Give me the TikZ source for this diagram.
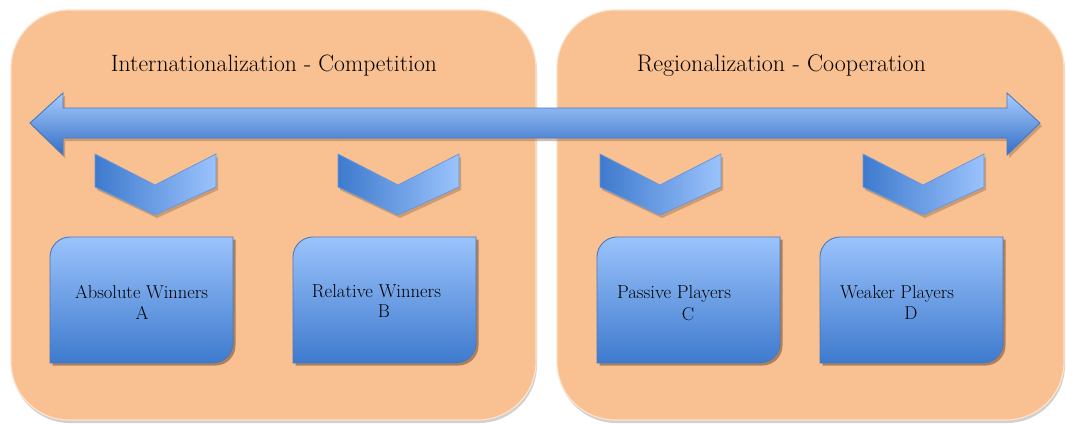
\documentclass[tikz,border=0pt]{standalone}
\usepackage{graphicx}
\definecolor{panelfill}{RGB}{249,193,145}
\definecolor{paneledge}{RGB}{253,226,204}
\definecolor{panelshadow}{RGB}{208,208,208}
\definecolor{bluelight}{RGB}{155,195,252}
\definecolor{bluedark}{RGB}{62,122,205}
\definecolor{blueedge}{RGB}{72,122,192}
\definecolor{arrowlight}{RGB}{168,205,255}
\definecolor{arrowdark}{RGB}{52,110,196}
\definecolor{boxshadow}{RGB}{172,128,92}
\definecolor{softshadow}{RGB}{150,110,80}
\tikzset{
  panel/.style={fill=panelfill, draw=paneledge, line width=1.2pt, rounded corners=58pt},
  panelshade/.style={fill=panelshadow, rounded corners=58pt},
  arrowshade/.style={top color=arrowlight, bottom color=arrowdark, draw=blueedge, line width=0.9pt},
  chevshade/.style={left color=bluedark, right color=bluelight, draw=blueedge!60!bluelight, line width=0.8pt},
  boxshade/.style={top color=bluelight, bottom color=bluedark, draw=blueedge, line width=0.9pt},
  softdrop/.style={fill=softshadow, opacity=0.45},
  boxdrop/.style={fill=boxshadow},
  titletext/.style={font=\fontsize{22}{26}\selectfont, anchor=base, inner sep=0pt},
  boxtext/.style={font=\fontsize{18.5}{21}\selectfont, anchor=base, inner sep=0pt},
}
\newcommand\boxpath[4]{(#1,#4) -- (#1,#2+20) .. controls (#1,#2+9) and (#1+9,#2) .. (#1+20,#2) -- (#3,#2) -- (#3,#4-20) .. controls (#3,#4-9) and (#3-9,#4) .. (#3-20,#4) -- cycle}
\newcommand\chevpath[1]{(#1-60,154) -- (#1,185) -- (#1+61,154) -- (#1+61,187) -- (#1,215) -- (#1-60,187) -- cycle}
\newcommand\arrowpath{(30,123) -- (63,93) -- (63,108) -- (1007,108) -- (1007,93) -- (1040,123) -- (1007,155) -- (1007,138) -- (63,138) -- (63,155) -- cycle}
\newcommand\fitw[2]{\resizebox{#1pt}{!}{#2}}
\begin{document}
\begin{tikzpicture}[x=1pt,y=-1pt]
\useasboundingbox (0,0) rectangle (1066,424);
\fill[white] (0,0) rectangle (1066,424);
% panels
\fill[panelshade] (12,13) rectangle (537,423);
\fill[panelshade] (558,13) rectangle (1065,423);
\draw[panel] (11,10) rectangle (536,420);
\draw[panel] (557,10) rectangle (1064,420);
% titles
\node[titletext] (titleL) at (274,71) {\fitw{326}{Internationalization - Competition}};
\node[titletext] (titleR) at (781.5,71) {\fitw{289}{Regionalization - Cooperation}};
% double arrow
\fill[softdrop, shift={(2,3)}] \arrowpath;
\draw[arrowshade] \arrowpath;
% chevrons
\foreach \cx in {155,398,660,923}{
  \fill[softdrop, shift={(2,3)}] \chevpath{\cx};
  \draw[chevshade] \chevpath{\cx};
}
% boxes
\foreach \bx in {50,293,597,820}{
  \fill[boxdrop, shift={(2.5,2.5)}] \boxpath{\bx}{237}{\bx+183}{363};
  \draw[boxshade] \boxpath{\bx}{237}{\bx+183}{363};
}
\node[boxtext] (a1) at (141.5,298) {\fitw{133}{Absolute Winners}};
\node[boxtext] (a2) at (142,319) {A};
\node[boxtext] (b1) at (376.5,297) {\fitw{129}{Relative Winners}};
\node[boxtext] (b2) at (384,317) {B};
\node[boxtext] (c1) at (674,298) {\fitw{114}{Passive Players}};
\node[boxtext] (c2) at (688,320) {C};
\node[boxtext] (d1) at (897,298) {\fitw{114}{Weaker Players}};
\node[boxtext] (d2) at (911,319) {D};
\end{tikzpicture}
\end{document}
